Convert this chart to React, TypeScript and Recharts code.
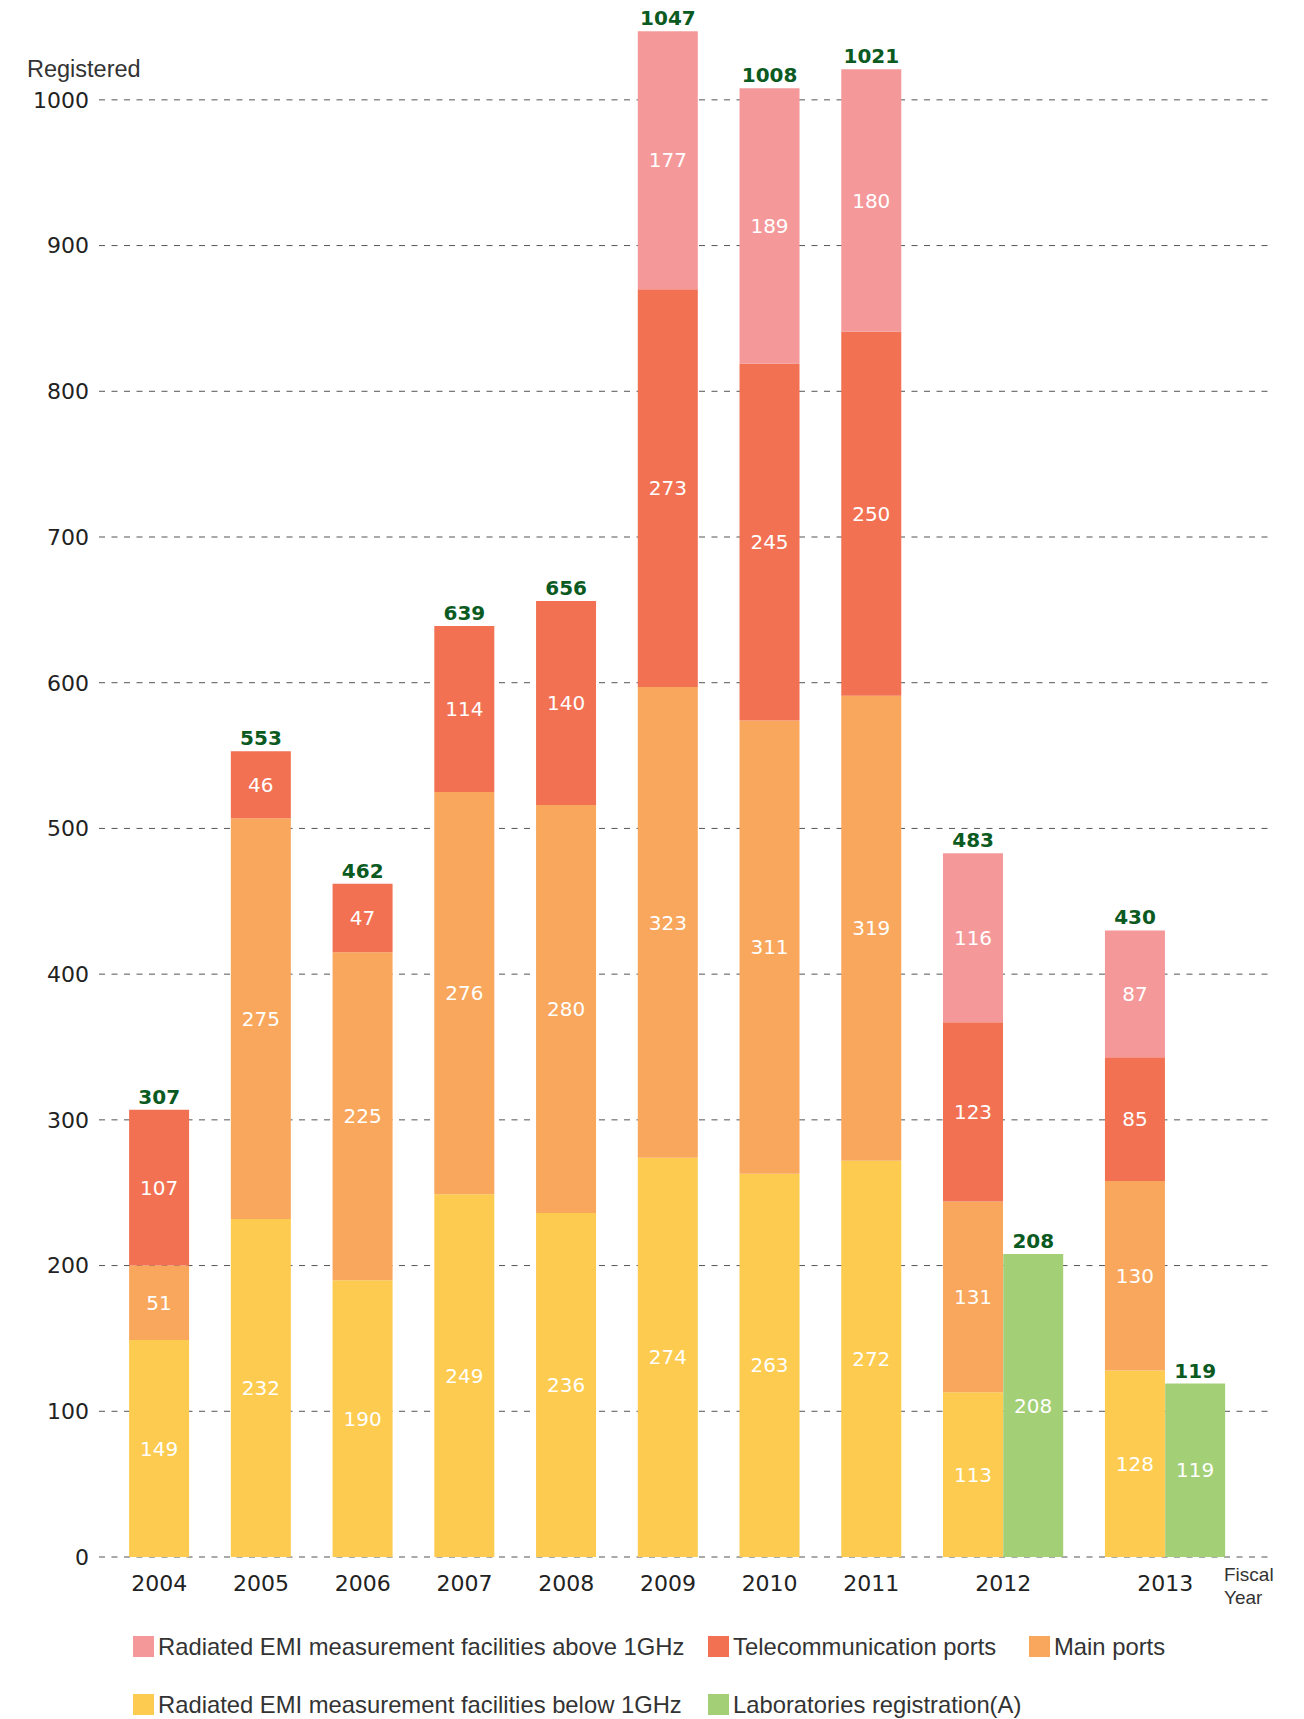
import { ComposedChart, Bar, Line, XAxis, YAxis, CartesianGrid, LabelList } from "recharts";

const years = ["2004", "2005", "2006", "2007", "2008", "2009", "2010", "2011", "2012", "2013"];
const belowGHz = [149, 232, 190, 249, 236, 274, 263, 272, 113, 128];
const mainPorts = [51, 275, 225, 276, 280, 323, 311, 319, 131, 130];
const telecomPorts = [107, 46, 47, 114, 140, 273, 245, 250, 123, 85];
const aboveGHz = [null, null, null, null, null, 177, 189, 180, 116, 87];
const labRegistration = [null, null, null, null, null, null, null, null, 208, 119];
const yTicks = [0, 100, 200, 300, 400, 500, 600, 700, 800, 900, 1000];

const COLORS = {
  above: "#F4989A",
  tel: "#F27153",
  main: "#F8A75D",
  below: "#FDCB4F",
  lab: "#A3D077",
};

const legendItems = [
  { name: "Radiated EMI measurement facilities above 1GHz", color: COLORS.above },
  { name: "Telecommunication ports", color: COLORS.tel },
  { name: "Main ports", color: COLORS.main },
  { name: "Radiated EMI measurement facilities below 1GHz", color: COLORS.below },
  { name: "Laboratories registration(A)", color: COLORS.lab },
];

// layout of the x axis in "bar slots": adjacent bars in a year touch, years are separated by a gap
const FIRST_SLOT = 1;
const GROUP_GAP = 0.69;
const X_MAX = 19.485;

type Row = {
  x: number;
  below?: number;
  main?: number;
  tel?: number;
  above?: number;
  lab?: number;
  total: number;
};

const rows: Row[] = [];
const yearTicks: number[] = [];
let slot = FIRST_SLOT;
years.forEach((_, i) => {
  const start = slot;
  const above = aboveGHz[i] ?? undefined;
  rows.push({
    x: slot,
    below: belowGHz[i],
    main: mainPorts[i],
    tel: telecomPorts[i],
    above,
    total: belowGHz[i] + mainPorts[i] + telecomPorts[i] + (above ?? 0),
  });
  const lab = labRegistration[i];
  if (lab != null) {
    slot += 1;
    rows.push({ x: slot, lab, total: lab });
  }
  yearTicks.push((start + slot) / 2);
  slot += 1 + GROUP_GAP;
});

const NUM_FONT = "'DejaVu Sans', sans-serif";
const TEXT_FONT = "'Liberation Sans', Arial, sans-serif";

const innerLabel = {
  fill: "#ffffff",
  fontSize: 20,
  fontFamily: NUM_FONT,
};

const yearOf = (v: number) => {
  const i = yearTicks.findIndex((t) => Math.abs(t - v) < 0.01);
  return i >= 0 ? years[i] : "";
};

export default function App() {
  return (
    <div style={{ position: "absolute", left: 0, top: 0, width: 1304, height: 1719, background: "#fff" }}>
      <ComposedChart
        width={1304}
        height={1719}
        data={rows}
        margin={{ top: 27, right: 32, bottom: 122, left: 0 }}
      >
        <CartesianGrid
          vertical={false}
          horizontalValues={yTicks}
          stroke="#555"
          strokeDasharray="6 6.5"
        />
        <XAxis
          type="number"
          dataKey="x"
          domain={[0, X_MAX]}
          ticks={yearTicks}
          interval={0}
          tickFormatter={(v: number) => yearOf(v)}
          axisLine={false}
          tickLine={false}
          tickSize={0}
          tickMargin={18}
          height={40}
          tick={{ fill: "#222", fontSize: 22, fontFamily: NUM_FONT }}
        />
        <YAxis
          domain={[0, 1050]}
          ticks={yTicks}
          interval={0}
          width={99}
          axisLine={false}
          tickLine={false}
          tickSize={0}
          tickMargin={10}
          tick={{ fill: "#222", fontSize: 22, fontFamily: NUM_FONT }}
        />
        <Bar dataKey="below" stackId="s" fill={COLORS.below} barSize={60} isAnimationActive={false}>
          <LabelList dataKey="below" position="center" {...innerLabel} />
        </Bar>
        <Bar dataKey="main" stackId="s" fill={COLORS.main} barSize={60} isAnimationActive={false}>
          <LabelList dataKey="main" position="center" {...innerLabel} />
        </Bar>
        <Bar dataKey="tel" stackId="s" fill={COLORS.tel} barSize={60} isAnimationActive={false}>
          <LabelList dataKey="tel" position="center" {...innerLabel} />
        </Bar>
        <Bar dataKey="above" stackId="s" fill={COLORS.above} barSize={60} isAnimationActive={false}>
          <LabelList dataKey="above" position="center" {...innerLabel} />
        </Bar>
        <Bar dataKey="lab" stackId="s" fill={COLORS.lab} barSize={60} isAnimationActive={false}>
          <LabelList dataKey="lab" position="center" {...innerLabel} />
        </Bar>
        <Line
          dataKey="total"
          stroke="none"
          dot={false}
          activeDot={false}
          isAnimationActive={false}
        >
          <LabelList
            dataKey="total"
            position="top"
            offset={6}
            fill="#0B5A1F"
            fontSize={20}
            fontWeight="bold"
            fontFamily={NUM_FONT}
          />
        </Line>
      </ComposedChart>

      <div
        style={{
          position: "absolute",
          left: 27,
          top: 58,
          fontFamily: TEXT_FONT,
          fontSize: 23.5,
          lineHeight: "23px",
          color: "#333",
        }}
      >
        Registered
      </div>

      <div
        style={{
          position: "absolute",
          left: 1224,
          top: 1563,
          fontFamily: TEXT_FONT,
          fontSize: 19,
          lineHeight: "23px",
          color: "#333",
        }}
      >
        Fiscal
        <br />
        Year
      </div>

      <div
        style={{
          position: "absolute",
          left: 133,
          top: 1632,
          display: "grid",
          gridTemplateColumns: "575px 321px auto",
          rowGap: 29,
          fontFamily: TEXT_FONT,
          fontSize: 23.8,
          lineHeight: "29px",
          color: "#333",
        }}
      >
        {legendItems.map((item) => (
          <div key={item.name} style={{ display: "flex", alignItems: "center" }}>
            <span
              style={{
                display: "inline-block",
                width: 21,
                height: 21,
                background: item.color,
                marginRight: 4,
              }}
            />
            <span>{item.name}</span>
          </div>
        ))}
      </div>
    </div>
  );
}
